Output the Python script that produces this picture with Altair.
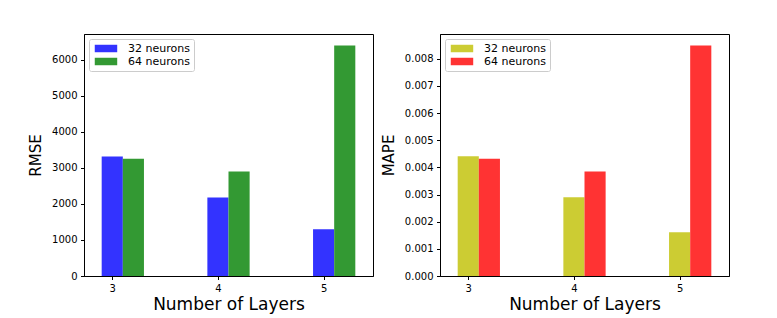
import altair as alt
import pandas as pd

layers = [3, 4, 5]
series_names = ["32 neurons", "64 neurons"]
rmse_32 = [3318, 2182, 1295]
rmse_64 = [3254, 2903, 6396]
mape_32 = [0.00441, 0.00290, 0.00161]
mape_64 = [0.00432, 0.00385, 0.00849]
rmse_ticks = [0, 1000, 2000, 3000, 4000, 5000, 6000]
mape_ticks = [0.0, 0.001, 0.002, 0.003, 0.004, 0.005, 0.006, 0.007, 0.008]
left_colors = ["#3333ff", "#339933"]
right_colors = ["#cccc33", "#ff3333"]

FONT = "DejaVu Sans"
# custom legend patch: 22.5 x 7.5 px when symbolSize = 56 (unit = 3.75 px)
RECT = "M-1,-1L5,-1L5,1L-1,1Z"


def panel(v32, v64, ytitle, ymax, ticks, fmt, colors):
    rows = []
    for i, name in enumerate(series_names):
        vals = v32 if i == 0 else v64
        for layer, v in zip(layers, vals):
            rows.append({"layer": layer, "series": name, "idx": i, "value": v})
    df = pd.DataFrame(rows)
    return (
        alt.Chart(df)
        .transform_calculate(
            x0="datum.layer - 0.1 + 0.2 * datum.idx",
            x1="datum.layer + 0.1 + 0.2 * datum.idx",
            base="0",
        )
        .mark_bar(strokeWidth=0, orient="vertical")
        .encode(
            x=alt.X(
                "x0:Q",
                scale=alt.Scale(domain=[2.78, 5.42], nice=False, zero=False),
                axis=alt.Axis(values=layers, format="d", title="Number of Layers"),
            ),
            x2="x1:Q",
            y=alt.Y(
                "value:Q",
                scale=alt.Scale(domain=[0, ymax], nice=False),
                axis=alt.Axis(values=ticks, format=fmt, title=ytitle),
            ),
            y2="base:Q",
            color=alt.Color(
                "series:N",
                scale=alt.Scale(domain=series_names, range=colors),
                legend=alt.Legend(
                    title=None,
                    orient="top-left",
                    offset=5,
                    symbolType=RECT,
                    symbolSize=56,
                    symbolStrokeWidth=0,
                    labelFont=FONT,
                    labelFontSize=11,
                    labelColor="black",
                    labelOffset=24,
                    rowPadding=1,
                    padding=4,
                    strokeColor="#cccccc",
                    fillColor="white",
                    cornerRadius=2,
                ),
            ),
        )
        .properties(width=289, height=242)
    )


left = panel(rmse_32, rmse_64, "RMSE", 6716, rmse_ticks, "d", left_colors)
right = panel(mape_32, mape_64, "MAPE", 0.008915, mape_ticks, ".3f", right_colors)

chart = (
    alt.hconcat(left, right, spacing=6)
    .resolve_scale(color="independent")
    .properties(padding={"left": 20, "top": 25, "right": 5, "bottom": 2})
    .configure_view(stroke="black", strokeWidth=1)
    .configure_axis(
        grid=False,
        domainColor="black",
        tickColor="black",
        tickSize=3.5,
        labelFont=FONT,
        labelFontSize=10,
        labelColor="black",
        labelPadding=3.5,
        titleFont=FONT,
        titleFontWeight="normal",
        titleColor="black",
    )
    .configure_axisX(titleFontSize=17, titlePadding=3, labelAngle=0)
    .configure_axisY(titleFontSize=15, titlePadding=8)
)

chart.save("out.html", embed_options={"renderer": "svg", "actions": False})
